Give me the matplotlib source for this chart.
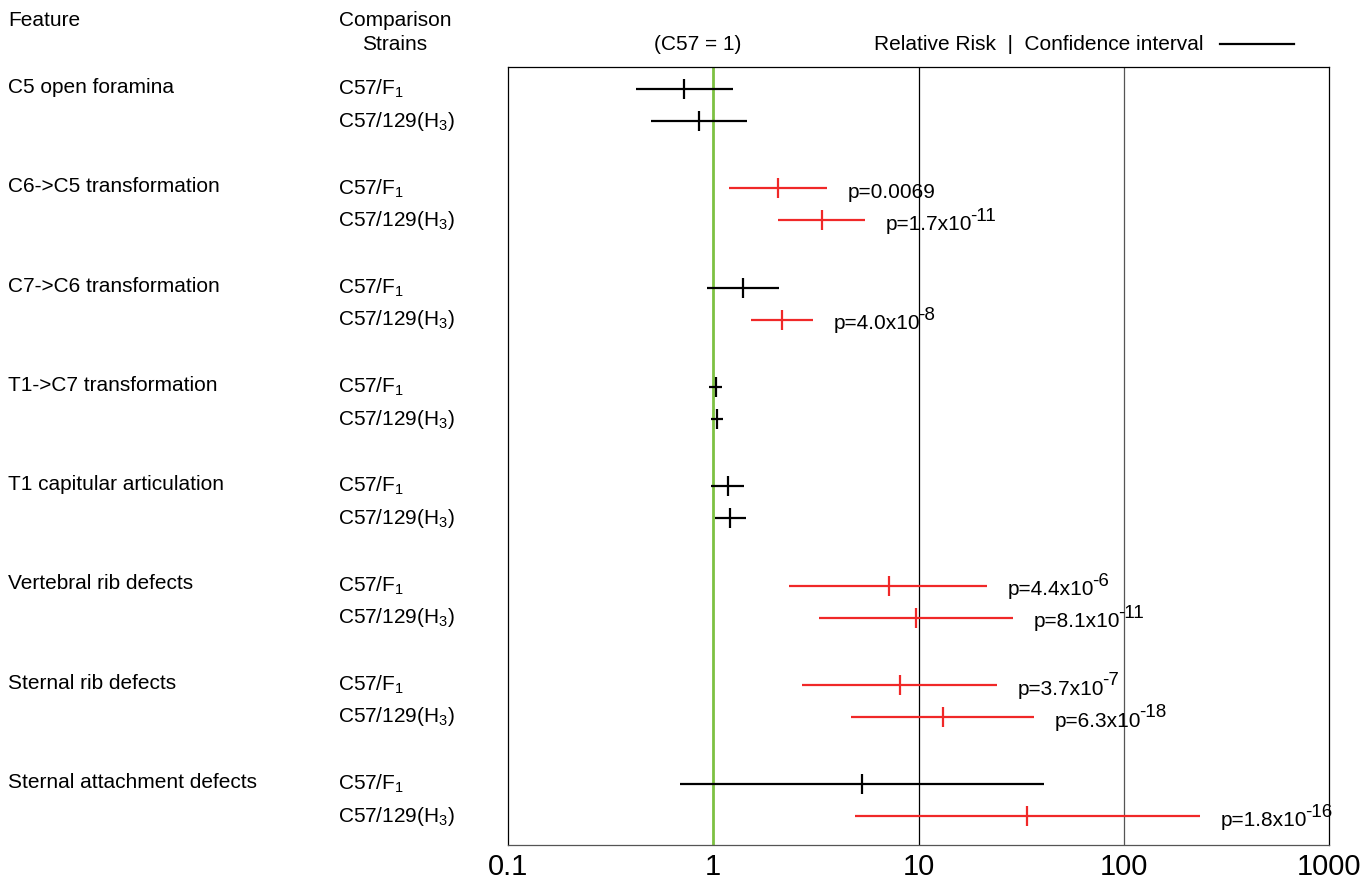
import matplotlib
matplotlib.use('Agg')
import matplotlib.pyplot as plt
from matplotlib.transforms import blended_transform_factory
from matplotlib.lines import Line2D

plt.rcParams['font.family'] = ['Liberation Sans', 'DejaVu Sans']
plt.rcParams['mathtext.fontset'] = 'custom'
plt.rcParams['mathtext.rm'] = 'Liberation Sans'
plt.rcParams['mathtext.it'] = 'Liberation Sans'
plt.rcParams['mathtext.default'] = 'regular'

features = ['C5 open foramina', 'C6->C5 transformation', 'C7->C6 transformation',
            'T1->C7 transformation', 'T1 capitular articulation', 'Vertebral rib defects',
            'Sternal rib defects', 'Sternal attachment defects']
strains = ['C57/F$_1$', 'C57/129(H$_3$)']

# relative risk and confidence interval, F1 then H3 for each feature
rr_f1 = [0.72, 2.07, 1.40, 1.03, 1.18, 7.2, 8.1, 5.3]
lo_f1 = [0.42, 1.19, 0.93, 0.955, 0.975, 2.34, 2.71, 0.69]
hi_f1 = [1.25, 3.58, 2.09, 1.10, 1.41, 21.6, 24.1, 40.9]
rr_h3 = [0.85, 3.39, 2.16, 1.04, 1.21, 9.7, 13.2, 33.7]
lo_h3 = [0.50, 2.07, 1.53, 0.975, 1.02, 3.27, 4.69, 4.9]
hi_h3 = [1.46, 5.48, 3.06, 1.11, 1.44, 28.9, 36.5, 235]
p_f1 = [None, 'p=0.0069', None, None, None, 'p=4.4x10^-6', 'p=3.7x10^-7', None]
p_h3 = [None, 'p=1.7x10^-11', 'p=4.0x10^-8', None, None,
        'p=8.1x10^-11', 'p=6.3x10^-18', 'p=1.8x10^-16']

xticks = [0.1, 1, 10, 100, 1000]
xticklabels = ['0.1', '1', '10', '100', '1000']

RED = '#f02828'
GREEN = '#7dc142'
GAP = 3.1
FS = 15

fig = plt.figure(figsize=(13.69, 8.82), dpi=100)
ax = fig.add_axes([508/1369, 1-845/882, (1329-508)/1369, (845-67)/882])
ax.set_xscale('log')
ax.set_xlim(0.1, 1000)
last = (len(features)-1)*GAP + 1
ax.set_ylim(last + 0.9, -0.69)

ax.axvline(1, color=GREEN, lw=2, zorder=1)
ax.axvline(10, color='black', lw=0.9, zorder=1)
ax.axvline(100, color='#555555', lw=0.9, zorder=1)

trans = blended_transform_factory(fig.transFigure, ax.transData)
for g, feat in enumerate(features):
    y0 = g*GAP
    ax.text(8/1369, y0 - 0.05, feat, transform=trans, fontsize=FS, va='center', ha='left')
    rows = [(rr_f1[g], lo_f1[g], hi_f1[g], p_f1[g]), (rr_h3[g], lo_h3[g], hi_h3[g], p_h3[g])]
    for j, (rr, lo, hi, p) in enumerate(rows):
        y = y0 + j
        ax.text(338/1369, y, strains[j], transform=trans, fontsize=FS, va='center', ha='left')
        c = RED if p else 'black'
        ax.plot([lo, hi], [y, y], color=c, lw=1.6, solid_capstyle='butt', zorder=3)
        ax.plot([rr], [y], marker='|', color=c, markersize=14, mew=1.6, zorder=3)
        if p:
            base, _, expo = p.partition('^')
            t = ax.annotate(base, xy=(hi, y), xytext=(15, -3), textcoords='offset points',
                            fontsize=FS, va='center', ha='left')
            if expo:
                ax.annotate(expo, xy=(1, 0), xycoords=t, xytext=(-1.5, 9.5),
                            textcoords='offset points', fontsize=13.5,
                            va='baseline', ha='left')

ax.set_yticks([])
ax.set_xticks(xticks)
ax.set_xticklabels(xticklabels)
ax.minorticks_off()
ax.tick_params(axis='x', length=0, pad=6, labelsize=21)
for s in ax.spines.values():
    s.set_linewidth(0.9)
ax.spines['bottom'].set_color('#555555')

# header
fig.text(8/1369, 1-20/882, 'Feature', fontsize=FS, va='center', ha='left')
fig.text(395/1369, 1-20/882, 'Comparison', fontsize=FS, va='center', ha='center')
fig.text(395/1369, 1-45/882, 'Strains', fontsize=FS, va='center', ha='center')
fig.text(698/1369, 1-45/882, '(C57 = 1)', fontsize=FS, va='center', ha='center')
fig.text(874/1369, 1-45/882, 'Relative Risk  |  Confidence interval', fontsize=FS,
         va='center', ha='left')
fig.add_artist(Line2D([1220/1369, 1294/1369], [1-44/882, 1-44/882], color='black', lw=1.6,
                      transform=fig.transFigure))

fig.savefig('out.png', dpi=100)
